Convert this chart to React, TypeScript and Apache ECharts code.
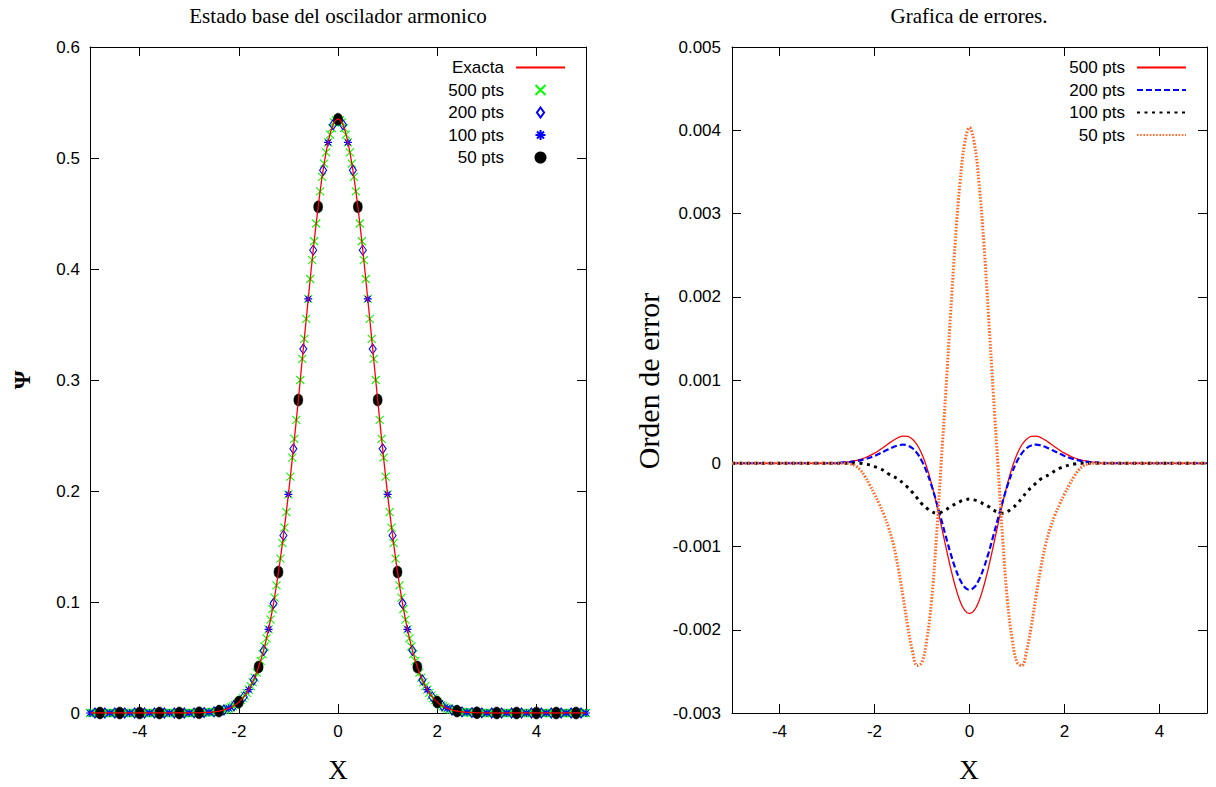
import React, { useEffect, useRef } from 'react';
import * as echarts from 'echarts';

// ---------- shared ----------
const X_TICKS = [-4, -2, 0, 2, 4];

// ---------- left chart: ground state wave function ----------
const EXACT_START = -5;
const EXACT_STEP = 0.1;
const exacta = [
  0, 0, 0, 0, 0, 0, 0, 0, 0, 0, 0, 0, 0, 0, 0, 0, 0, 0, 0, 0, 0,
  0.0001, 0.0002, 0.0004, 0.0006, 0.0010, 0.0017, 0.0027, 0.0042, 0.0065, 0.0098,
  0.0145, 0.0210, 0.0297, 0.0414, 0.0564, 0.0754, 0.0987, 0.127, 0.160, 0.197,
  0.238, 0.282, 0.328, 0.373, 0.417, 0.456, 0.489, 0.514, 0.530,
  0.535,
  0.530, 0.514, 0.489, 0.456, 0.417, 0.373, 0.328, 0.282, 0.238,
  0.197, 0.160, 0.127, 0.0987, 0.0754, 0.0564, 0.0414, 0.0297, 0.0210, 0.0145,
  0.0098, 0.0065, 0.0042, 0.0027, 0.0017, 0.0010, 0.0006, 0.0004, 0.0002, 0.0001,
  0, 0, 0, 0, 0, 0, 0, 0, 0, 0, 0, 0, 0, 0, 0, 0, 0, 0, 0, 0, 0,
];

const P500_START = -5;
const P500_STEP = 0.04;
const pts500 = [
  0, 0, 0, 0, 0, 0, 0, 0, 0, 0, 0, 0, 0, 0, 0, 0, 0, 0, 0, 0,
  0, 0, 0, 0, 0, 0, 0, 0, 0, 0, 0, 0, 0, 0, 0, 0, 0, 0, 0, 0,
  0, 0, 0, 0, 0, 0, 0, 0, 0, 0, 0, 0, 0, 0, 0,
  0.0002, 0.0003, 0.0003, 0.0004, 0.0005, 0.0006, 0.0008, 0.0009, 0.0011, 0.0014,
  0.0017, 0.0020, 0.0025, 0.0030, 0.0035, 0.0042, 0.0050, 0.0060, 0.0071, 0.0083,
  0.0098, 0.0115, 0.0134, 0.0156, 0.0181, 0.0210, 0.0242, 0.0278, 0.0318, 0.0363,
  0.0414, 0.0469, 0.0531, 0.0599, 0.0673, 0.0754, 0.0842, 0.0937, 0.104, 0.115,
  0.127, 0.139, 0.153, 0.167, 0.181, 0.197, 0.213, 0.230, 0.247, 0.264,
  0.282, 0.300, 0.319, 0.337, 0.355, 0.373, 0.391, 0.408, 0.425, 0.441,
  0.456, 0.470, 0.483, 0.495, 0.505, 0.514, 0.521, 0.527, 0.532, 0.534,
  0.535,
  0.534, 0.532, 0.527, 0.521, 0.514, 0.505, 0.495, 0.483, 0.470, 0.456,
  0.441, 0.425, 0.408, 0.391, 0.373, 0.355, 0.337, 0.319, 0.300, 0.282,
  0.264, 0.247, 0.230, 0.213, 0.197, 0.181, 0.167, 0.153, 0.139, 0.127,
  0.115, 0.104, 0.0937, 0.0842, 0.0754, 0.0673, 0.0599, 0.0531, 0.0469, 0.0414,
  0.0363, 0.0318, 0.0278, 0.0242, 0.0210, 0.0181, 0.0156, 0.0134, 0.0115, 0.0098,
  0.0083, 0.0071, 0.0060, 0.0050, 0.0042, 0.0035, 0.0030, 0.0025, 0.0020, 0.0017,
  0.0014, 0.0011, 0.0009, 0.0008, 0.0006, 0.0005, 0.0004, 0.0003, 0.0003, 0.0002,
  0, 0, 0, 0, 0, 0, 0, 0, 0, 0, 0, 0, 0, 0, 0, 0, 0, 0, 0, 0,
  0, 0, 0, 0, 0, 0, 0, 0, 0, 0, 0, 0, 0, 0, 0, 0, 0, 0, 0, 0,
  0, 0, 0, 0, 0, 0, 0, 0, 0, 0, 0, 0, 0, 0, 0,
];

const P200_START = -4.9;
const P200_STEP = 0.2;
const pts200 = [
  0, 0, 0, 0, 0, 0, 0, 0, 0, 0,
  0.0001, 0.0004, 0.0010, 0.0027, 0.0065, 0.0145, 0.0297, 0.0564, 0.0987, 0.160,
  0.238, 0.328, 0.417, 0.489, 0.530,
  0.530, 0.489, 0.417, 0.328, 0.238,
  0.160, 0.0987, 0.0564, 0.0297, 0.0145, 0.0065, 0.0027, 0.0010, 0.0004, 0.0001,
  0, 0, 0, 0, 0, 0, 0, 0, 0, 0,
];

const P100_START = -5;
const P100_STEP = 0.2;
const pts100 = [
  0, 0, 0, 0, 0, 0, 0, 0, 0, 0, 0,
  0.0002, 0.0006, 0.0017, 0.0042, 0.0098, 0.0210, 0.0414, 0.0754, 0.127, 0.197,
  0.282, 0.373, 0.456, 0.514,
  0.535,
  0.514, 0.456, 0.373, 0.282,
  0.197, 0.127, 0.0754, 0.0414, 0.0210, 0.0098, 0.0042, 0.0017, 0.0006, 0.0002,
  0, 0, 0, 0, 0, 0, 0, 0, 0, 0, 0,
];

const P50_START = -4.8;
const P50_STEP = 0.4;
const pts50 = [
  0, 0, 0, 0, 0,
  0.0002, 0.0017, 0.0098, 0.0414, 0.127, 0.282, 0.456,
  0.535,
  0.456, 0.282, 0.127, 0.0414, 0.0098, 0.0017, 0.0002,
  0, 0, 0, 0, 0,
];

// ---------- right chart: errors ----------
const ERR_START = -5;
const ERR_STEP = 0.1;
const err500 = [
  0, 0, 0, 0, 0, 0, 0, 0, 0, 0, 0, 0, 0, 0, 0, 0, 0, 0, 0, 0, 0, 0, 0,
  0.000009, 0.000014, 0.000022, 0.000032, 0.000047, 0.000066, 0.000091, 0.000121,
  0.000157, 0.000196, 0.000237, 0.000276, 0.000308, 0.000325, 0.000322, 0.000289, 0.000219, 0.000108,
  -0.000047, -0.000244, -0.000476, -0.000733, -0.000998, -0.001253, -0.001478, -0.001655, -0.001767,
  -0.001806,
  -0.001767, -0.001655, -0.001478, -0.001253, -0.000998, -0.000733, -0.000476, -0.000244, -0.000047,
  0.000108, 0.000219, 0.000289, 0.000322, 0.000325, 0.000308, 0.000276, 0.000237, 0.000196, 0.000157,
  0.000121, 0.000091, 0.000066, 0.000047, 0.000032, 0.000022, 0.000014, 0.000009,
  0, 0, 0, 0, 0, 0, 0, 0, 0, 0, 0, 0, 0, 0, 0, 0, 0, 0, 0, 0, 0, 0, 0,
];
const err200 = [
  0, 0, 0, 0, 0, 0, 0, 0, 0, 0, 0, 0, 0, 0, 0, 0, 0, 0, 0, 0, 0, 0, 0,
  0.000007, 0.000011, 0.000016, 0.000024, 0.000035, 0.000049, 0.000066, 0.000088,
  0.000114, 0.000142, 0.000170, 0.000196, 0.000215, 0.000223, 0.000213, 0.000180, 0.000118, 0.000023,
  -0.000106, -0.000267, -0.000456, -0.000663, -0.000875, -0.001079, -0.001259, -0.001399, -0.001489,
  -0.00152,
  -0.001489, -0.001399, -0.001259, -0.001079, -0.000875, -0.000663, -0.000456, -0.000267, -0.000106,
  0.000023, 0.000118, 0.000180, 0.000213, 0.000223, 0.000215, 0.000196, 0.000170, 0.000142, 0.000114,
  0.000088, 0.000066, 0.000049, 0.000035, 0.000024, 0.000016, 0.000011, 0.000007,
  0, 0, 0, 0, 0, 0, 0, 0, 0, 0, 0, 0, 0, 0, 0, 0, 0, 0, 0, 0, 0, 0, 0,
];
const err100 = [
  0, 0, 0, 0, 0, 0, 0, 0, 0, 0, 0, 0, 0, 0, 0, 0, 0, 0, 0, 0, 0, 0, 0,
  0, 0, 0, 0, 0, -0.00001, -0.00002, -0.00004,
  -0.00006, -0.00009, -0.00013, -0.00016, -0.00019, -0.00024, -0.00029, -0.00035, -0.00042, -0.00049,
  -0.00054, -0.00058, -0.00060, -0.00059, -0.00056, -0.00052, -0.00049, -0.00046, -0.00044,
  -0.00043,
  -0.00044, -0.00046, -0.00049, -0.00052, -0.00056, -0.00059, -0.00060, -0.00058, -0.00054,
  -0.00049, -0.00042, -0.00035, -0.00029, -0.00024, -0.00019, -0.00016, -0.00013, -0.00009, -0.00006,
  -0.00004, -0.00002, -0.00001, 0, 0, 0, 0, 0,
  0, 0, 0, 0, 0, 0, 0, 0, 0, 0, 0, 0, 0, 0, 0, 0, 0, 0, 0, 0, 0, 0, 0,
];
const err50 = [
  0, 0, 0, 0, 0, 0, 0, 0, 0, 0, 0, 0, 0, 0, 0, 0, 0, 0, 0, 0, 0, 0, 0,
  0, 0, -0.00001, -0.00003, -0.00008, -0.00016, -0.00026, -0.00037,
  -0.00049, -0.00062, -0.00078, -0.00098, -0.00126, -0.00160, -0.00196, -0.00226, -0.00243, -0.00239,
  -0.00212, -0.00166, -0.00092, -0.00003, 0.00085, 0.00178, 0.00266, 0.00337, 0.00385,
  0.00403,
  0.00385, 0.00337, 0.00266, 0.00178, 0.00085, -0.00003, -0.00092, -0.00166, -0.00212,
  -0.00239, -0.00243, -0.00226, -0.00196, -0.00160, -0.00126, -0.00098, -0.00078, -0.00062, -0.00049,
  -0.00037, -0.00026, -0.00016, -0.00008, -0.00003, -0.00001, 0, 0,
  0, 0, 0, 0, 0, 0, 0, 0, 0, 0, 0, 0, 0, 0, 0, 0, 0, 0, 0, 0, 0, 0, 0,
];

const LEFT_NAMES = ['Exacta', '500 pts', '200 pts', '100 pts', '50 pts'];
const LEFT_LINES = ['Exacta'];
const RIGHT_NAMES = ['e500', 'e200', 'e100', 'e50'];
const RIGHT_LABELS: Record<string, string> = { e500: '500 pts', e200: '200 pts', e100: '100 pts', e50: '50 pts' };

function pairs(start: number, step: number, vals: number[]) {
  return vals.map((v, i) => [Math.round((start + i * step) * 1000) / 1000, v]);
}

const SANS = '"Liberation Sans", Arial, sans-serif';
const SERIF = '"Liberation Serif", "Times New Roman", serif';

const CROSS = 'path://M0,0L10,10M10,0L0,10';
const STAR = 'path://M5,0L5,10M0,5L10,5M1.5,1.5L8.5,8.5M8.5,1.5L1.5,8.5';
const DIAMOND = 'path://M5,0L10,7L5,14L0,7Z';

function buildOption() {
  const axisLine = { show: true, onZero: false, lineStyle: { color: '#000', width: 1 } };
  const tickIn = { show: true, inside: true, length: 9, lineStyle: { color: '#000', width: 1 } };
  const labelStyle = { color: '#000', fontSize: 17, fontFamily: SANS };

  const xAxes: any[] = [];
  const yAxes: any[] = [];
  [0, 1].forEach((g) => {
    xAxes.push({
      type: 'value', gridIndex: g, min: -5, max: 5, position: 'bottom',
      axisLine, axisTick: { ...tickIn, customValues: X_TICKS },
      axisLabel: { ...labelStyle, margin: 10, customValues: X_TICKS, formatter: (v: number) => String(v) },
      splitLine: { show: false },
    });
    xAxes.push({
      type: 'value', gridIndex: g, min: -5, max: 5, position: 'top',
      axisLine, axisTick: { ...tickIn, customValues: X_TICKS },
      axisLabel: { show: false }, splitLine: { show: false },
    });
  });
  yAxes.push({
    type: 'value', gridIndex: 0, min: 0, max: 0.6, interval: 0.1, position: 'left',
    axisLine, axisTick: tickIn,
    axisLabel: { ...labelStyle, margin: 10, formatter: (v: number) => (Math.abs(v) < 1e-9 ? '0' : String(+v.toFixed(1))) },
    splitLine: { show: false },
  });
  yAxes.push({
    type: 'value', gridIndex: 0, min: 0, max: 0.6, interval: 0.1, position: 'right',
    axisLine, axisTick: tickIn, axisLabel: { show: false }, splitLine: { show: false },
  });
  yAxes.push({
    type: 'value', gridIndex: 1, min: -0.003, max: 0.005, interval: 0.001, position: 'left',
    axisLine, axisTick: tickIn,
    axisLabel: { ...labelStyle, margin: 11, formatter: (v: number) => (Math.abs(v) < 1e-9 ? '0' : String(+v.toFixed(3))) },
    splitLine: { show: false },
  });
  yAxes.push({
    type: 'value', gridIndex: 1, min: -0.003, max: 0.005, interval: 0.001, position: 'right',
    axisLine, axisTick: tickIn, axisLabel: { show: false }, splitLine: { show: false },
  });

  const scatterBase = { type: 'scatter', xAxisIndex: 0, yAxisIndex: 0, silent: true, emphasis: { disabled: true } };

  const series: any[] = [
    {
      name: 'Exacta', type: 'line', xAxisIndex: 0, yAxisIndex: 0, symbol: 'none', smooth: 0.4,
      lineStyle: { color: '#ff0000', width: 1.3 }, itemStyle: { color: '#ff0000' },
      data: pairs(EXACT_START, EXACT_STEP, exacta), silent: true,
    },
    {
      ...scatterBase, name: '500 pts', symbol: CROSS, symbolSize: 8,
      itemStyle: { color: 'rgba(0,0,0,0)', borderColor: '#00ff00', borderWidth: 1.1, opacity: 1 },
      data: pairs(P500_START, P500_STEP, pts500),
    },
    {
      ...scatterBase, name: '200 pts', symbol: DIAMOND, symbolSize: [7, 10],
      itemStyle: { color: 'rgba(255,255,255,0)', borderColor: '#0000ff', borderWidth: 1.1, opacity: 1 },
      data: pairs(P200_START, P200_STEP, pts200),
    },
    {
      ...scatterBase, name: '100 pts', symbol: STAR, symbolSize: 8,
      itemStyle: { color: 'rgba(0,0,0,0)', borderColor: '#0000ff', borderWidth: 1.2, opacity: 1 },
      data: pairs(P100_START, P100_STEP, pts100),
    },
    {
      ...scatterBase, name: '50 pts', symbol: 'circle', symbolSize: [9, 12],
      itemStyle: { color: '#000000', borderColor: '#000000', borderWidth: 0.5, opacity: 1 },
      data: pairs(P50_START, P50_STEP, pts50),
    },
    {
      name: 'e500', type: 'line', xAxisIndex: 2, yAxisIndex: 2, symbol: 'none', smooth: 0.4, silent: true,
      lineStyle: { color: '#ff0000', width: 1.3 }, itemStyle: { color: '#ff0000' },
      data: pairs(ERR_START, ERR_STEP, err500),
    },
    {
      name: 'e200', type: 'line', xAxisIndex: 2, yAxisIndex: 2, symbol: 'none', smooth: 0.4, silent: true,
      lineStyle: { color: '#0000ff', width: 2.2, type: [6, 3] }, itemStyle: { color: '#0000ff' },
      data: pairs(ERR_START, ERR_STEP, err200),
    },
    {
      name: 'e100', type: 'line', xAxisIndex: 2, yAxisIndex: 2, symbol: 'none', smooth: 0.4, silent: true,
      lineStyle: { color: '#000000', width: 3, type: [3, 4.5] }, itemStyle: { color: '#000000' },
      data: pairs(ERR_START, ERR_STEP, err100),
    },
    {
      name: 'e50', type: 'line', xAxisIndex: 2, yAxisIndex: 2, symbol: 'none', smooth: 0.4, silent: true,
      lineStyle: { color: '#ff6a2a', width: 3, type: [1.6, 1.6] }, itemStyle: { color: '#ff6a2a' },
      data: pairs(ERR_START, ERR_STEP, err50),
    },
  ];

  const hiddenSymbol = { color: 'rgba(0,0,0,0)', borderColor: 'rgba(0,0,0,0)', borderWidth: 0, opacity: 0 };
  const legendBase = {
    orient: 'vertical', align: 'right', itemWidth: 49, itemHeight: 10, itemGap: 5.5, padding: 0,
    selectedMode: false, top: 59, symbolKeepAspect: true,
    textStyle: { color: '#000', fontSize: 17, fontFamily: SANS, padding: [0, 7, 0, 0] },
  };

  const txt = (x: number, y: number, text: string, font: string, rotation = 0) => ({
    type: 'text', x, y, rotation, silent: true,
    style: { text, font, fill: '#000', align: 'center', verticalAlign: 'middle', textAlign: 'center', textVerticalAlign: 'middle' },
  });

  return {
    animation: false,
    backgroundColor: '#ffffff',
    grid: [
      { left: 90, right: 630, top: 47, bottom: 74 },
      { left: 732, right: 9, top: 47, bottom: 74 },
    ],
    xAxis: xAxes,
    yAxis: yAxes,
    legend: [
      {
        ...legendBase, right: 650,
        data: LEFT_NAMES.map((n) => (LEFT_LINES.includes(n) ? { name: n, itemStyle: hiddenSymbol } : { name: n })),
      },
      {
        ...legendBase, right: 29,
        data: RIGHT_NAMES.map((n) => ({ name: n, itemStyle: hiddenSymbol })),
        formatter: (n: string) => RIGHT_LABELS[n] || n,
      },
    ],
    graphic: [
      txt(338, 16, 'Estado base del oscilador armonico', `21px ${SERIF}`),
      txt(969, 16, 'Grafica de errores.', `21px ${SERIF}`),
      txt(338, 770, 'X', `27px ${SERIF}`),
      txt(969, 770, 'X', `27px ${SERIF}`),
      txt(22, 380, 'Ψ', `bold 24px ${SERIF}`, Math.PI / 2),
      txt(648, 381, 'Orden de error', `30px ${SERIF}`, Math.PI / 2),
    ],
    series,
  };
}

export default function App() {
  const ref = useRef<HTMLDivElement>(null);
  useEffect(() => {
    if (!ref.current) return;
    const chart = echarts.init(ref.current, undefined, { renderer: 'svg' });
    chart.setOption(buildOption() as any);
    return () => chart.dispose();
  }, []);
  return (
    <div
      ref={ref}
      style={{ position: 'fixed', left: 0, top: 0, width: 1216, height: 787, background: '#fff' }}
    />
  );
}
